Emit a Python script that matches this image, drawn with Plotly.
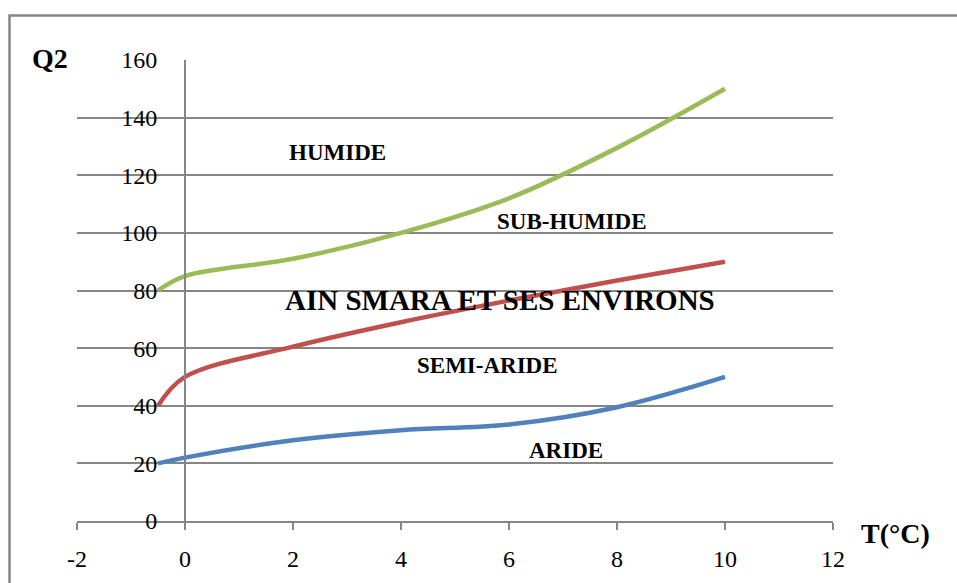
import plotly.graph_objects as go

# Temperature (°C) sample points for each boundary curve
t_humide = [-0.5, 0, 2, 4, 6, 8, 10]
q2_humide = [80, 85, 91, 100, 112, 129.5, 150]

t_semi = [-0.5, 0, 2, 4, 6, 8, 10]
q2_semi = [40, 50, 60.5, 69, 76.5, 83.5, 90]

t_aride = [-0.5, 0, 2, 4, 6, 8, 10]
q2_aride = [20, 22, 28, 31.5, 33.5, 39.5, 50]

x_ticks = [-2, 0, 2, 4, 6, 8, 10, 12]
y_ticks = [0, 20, 40, 60, 80, 100, 120, 140, 160]

GRID = "#868686"
FONT = "Times New Roman, Liberation Serif, serif"

fig = go.Figure()
for xs, ys, col in [
    (t_humide, q2_humide, "#9BBB59"),
    (t_semi, q2_semi, "#C0504D"),
    (t_aride, q2_aride, "#4F81BD"),
]:
    fig.add_trace(go.Scatter(
        x=xs, y=ys, mode="lines",
        line=dict(color=col, width=4.5, shape="spline", smoothing=1.0),
        showlegend=False, hoverinfo="skip",
    ))

W, H = 957, 583
L, R, T, B = 77, 124, 60, 62
pw, ph = W - L - R, H - T - B


def px_x(p):
    return (p - L) / pw


def px_y(p):
    return (H - B - p) / ph


fig.update_layout(
    width=W, height=H,
    margin=dict(l=L, r=R, t=T, b=B, autoexpand=False),
    paper_bgcolor="white", plot_bgcolor="white",
    font=dict(family=FONT, color="black", size=24),
    xaxis=dict(
        range=[-2, 12], tickvals=x_ticks, ticktext=[str(v) for v in x_ticks],
        showgrid=False, zeroline=False, automargin=False,
        showline=True, linecolor=GRID, linewidth=2,
        ticks="outside", ticklen=7, tickwidth=2, tickcolor=GRID,
        ticklabelstandoff=8,
        tickfont=dict(family=FONT, size=24, color="black"),
        fixedrange=True,
    ),
    yaxis=dict(
        range=[0, 160], tickvals=y_ticks, ticktext=[str(v) for v in y_ticks],
        anchor="free", position=2 / 14, automargin=False,
        showgrid=True, gridcolor=GRID, gridwidth=2,
        zeroline=False,
        showline=True, linecolor=GRID, linewidth=2,
        ticks="", ticklabelstandoff=22,
        tickfont=dict(family=FONT, size=24, color="black"),
        fixedrange=True,
    ),
    shapes=[
        # outer chart frame
        dict(type="rect", xref="paper", yref="paper",
             x0=px_x(9.5), x1=px_x(W + 20), y0=px_y(H + 20), y1=px_y(15.5),
             line=dict(color=GRID, width=2.5), fillcolor="rgba(0,0,0,0)",
             layer="below"),
    ],
)

labels = [
    ("HUMIDE", 2.815, 128.0, 23),
    ("SUB-HUMIDE", 7.17, 103.8, 23),
    ("AIN SMARA ET SES ENVIRONS", 5.83, 76.7, 29),
    ("SEMI-ARIDE", 5.61, 54.1, 23),
    ("ARIDE", 7.06, 24.6, 23),
]
for text, x, y, size in labels:
    fig.add_annotation(x=x, y=y, xref="x", yref="y", text=f"<b>{text}</b>",
                       showarrow=False, xanchor="center", yanchor="middle",
                       font=dict(family=FONT, size=size, color="black"))

fig.add_annotation(x=px_x(50), y=px_y(58), xref="paper", yref="paper",
                   text="<b>Q2</b>", showarrow=False,
                   xanchor="center", yanchor="middle",
                   font=dict(family=FONT, size=28, color="black"))
fig.add_annotation(x=px_x(895), y=px_y(533), xref="paper", yref="paper",
                   text="<b>T(°C)</b>", showarrow=False,
                   xanchor="center", yanchor="middle",
                   font=dict(family=FONT, size=28, color="black"))

fig.write_html("out.html", config=dict(displayModeBar=False))
